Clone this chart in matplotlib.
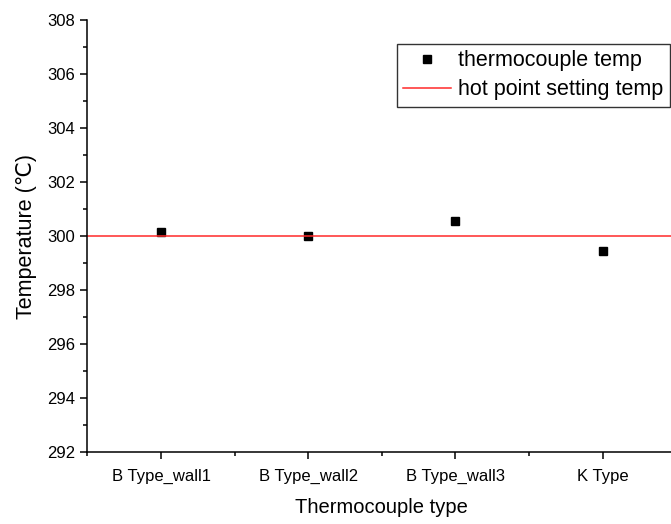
#!/usr/bin/env python3
"""Thermocouple readings vs hot point setting temperature."""
import matplotlib
matplotlib.use("Agg")
import matplotlib.pyplot as plt
from matplotlib.ticker import MultipleLocator, FixedLocator

categories = ["B Type_wall1", "B Type_wall2", "B Type_wall3", "K Type"]
thermo_temp = [300.16, 299.99, 300.57, 299.46]
setting_temp = 300.0

plt.rcParams["font.family"] = ["Liberation Sans", "DejaVu Sans"]

fig = plt.figure(figsize=(6.71, 5.24), dpi=100)
ax = fig.add_axes([0.1304, 0.1366, 0.8775, 0.8252])

xs = list(range(1, len(categories) + 1))
ax.plot(xs, thermo_temp, "s", color="black", markersize=6, label="thermocouple temp")
ax.axhline(setting_temp, color="#ff2a2a", lw=1.1, label="hot point setting temp")

ax.set_xlim(0.5, 4.5)
ax.set_ylim(292, 308)
ax.set_xticks(xs)
ax.set_xticklabels(categories)
ax.xaxis.set_minor_locator(FixedLocator([0.5, 1.5, 2.5, 3.5, 4.5]))
ax.yaxis.set_major_locator(MultipleLocator(2))
ax.yaxis.set_minor_locator(MultipleLocator(1))

for side in ("top", "right"):
    ax.spines[side].set_visible(False)
for side in ("left", "bottom"):
    ax.spines[side].set_linewidth(1.1)
ax.tick_params(which="major", length=5, width=1.1, labelsize=12, pad=4)
ax.tick_params(axis="x", which="major", pad=7)
ax.tick_params(which="minor", length=3, width=1.1)

ax.set_xlabel("Thermocouple type", fontsize=14.5, labelpad=10)
ax.set_ylabel("Temperature (\u2103)", fontsize=15.5, labelpad=7)

leg = ax.legend(loc="upper right", bbox_to_anchor=(0.989, 0.945), fontsize=15.5,
                frameon=True, fancybox=False, edgecolor="black",
                handlelength=2.2, handletextpad=0.35, borderpad=0.3,
                labelspacing=0.38, borderaxespad=0)
leg.get_frame().set_linewidth(1.0)

fig.savefig("out.png", dpi=100)
